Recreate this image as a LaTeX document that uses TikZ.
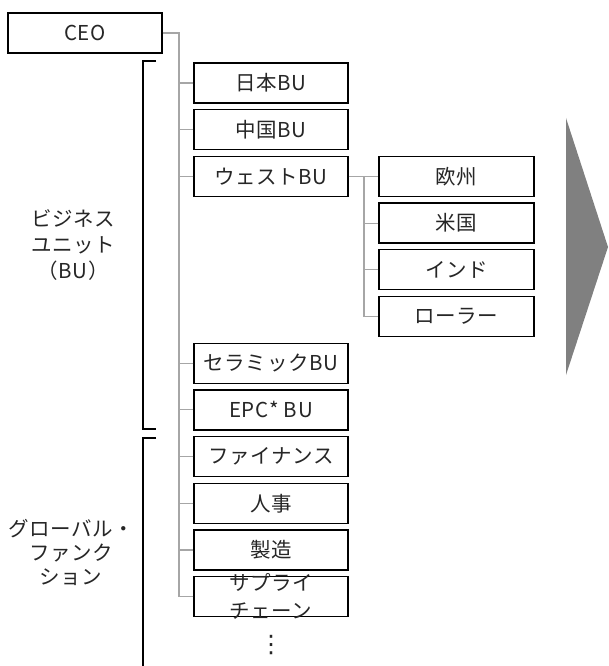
\documentclass[tikz,border=0pt]{standalone}
\usepackage{fontspec}
\setmainfont{Noto Sans CJK JP}[LetterSpace=3]
\newfontfamily\symfont{DejaVu Sans}
\begin{document}
\begin{tikzpicture}[x=1pt,y=-1pt,
  box/.style={draw=black, line width=1.3pt, minimum width=154pt, minimum height=40pt, inner sep=0pt, text=black!85, font=\fontsize{20.5}{26}\selectfont},
  sbox/.style={box, minimum width=155pt},
  conn/.style={draw=black!35, line width=1.1pt},
  brk/.style={draw=black, line width=1.3pt},
  lbl/.style={align=center, text=black!85, font=\fontsize{20.5}{26}\selectfont, inner sep=0pt}
]
\useasboundingbox (0,0) rectangle (609,666);
% CEO
\node[box] (ceo) at (85,33) {CEO};
% main column
\node[box] (jp) at (271,83) {日本BU};
\node[box] (cn) at (271,129.7) {中国BU};
\node[box] (west) at (271,176.4) {ウェストBU};
\node[box] (cer) at (271,363.2) {セラミックBU};
\node[box] (epc) at (271,409.9) {EPC* BU};
\node[box] (fin) at (271,456.6) {ファイナンス};
\node[box] (hr) at (271,503.3) {人事};
\node[box] (mfg) at (271,550) {製造};
\node[box] (sc) at (271,596.7) {};
\node[lbl, font=\fontsize{20.5}{28}\selectfont] (sctxt) at (271,596) {サプライ\\チェーン};
\node[lbl, font=\symfont\fontsize{24}{24}\selectfont] (dots) at (271,645) {⋮};
% sub column
\node[sbox] (eu) at (456.5,176.4) {欧州};
\node[sbox] (us) at (456.5,223.1) {米国};
\node[sbox] (in) at (456.5,269.8) {インド};
\node[sbox] (rl) at (456.5,316.5) {ローラー};
% trunk
\coordinate (t0) at (179,33);
\coordinate (tend) at (179,596.7);
\draw[conn] (ceo.east) -- (t0) -- (tend);
\foreach \n in {jp,cn,west,cer,epc,fin,hr,mfg,sc}{
  \draw[conn] (\n.west) -- (\n.west -| t0);
}
% sub trunk
\coordinate (s0) at (364,176.4);
\draw[conn] (west.east) -- (eu.west);
\draw[conn] (s0) |- (rl.west);
\foreach \n in {us,in}{
  \draw[conn] (\n.west) -- (\n.west -| s0);
}
% brackets
\coordinate (b1a) at (156,61);
\coordinate (b1b) at (156,429);
\draw[brk] (b1a) -- (143,61) -- (143,429) -- (b1b);
\coordinate (b2a) at (156,438);
\draw[brk] (b2a) -- (143,438) -- (143,666);
% labels
\node[lbl] (bu) at (73,245) {ビジネス\\ユニット\\（BU）};
\node[lbl, font=\fontsize{20.5}{24}\selectfont] (gf) at (71,552) {グローバル・\\ファンク\\ション};
% arrow
\fill[black!50] (566,118) -- (608,247) -- (566,375) -- cycle;
\end{tikzpicture}
\end{document}
